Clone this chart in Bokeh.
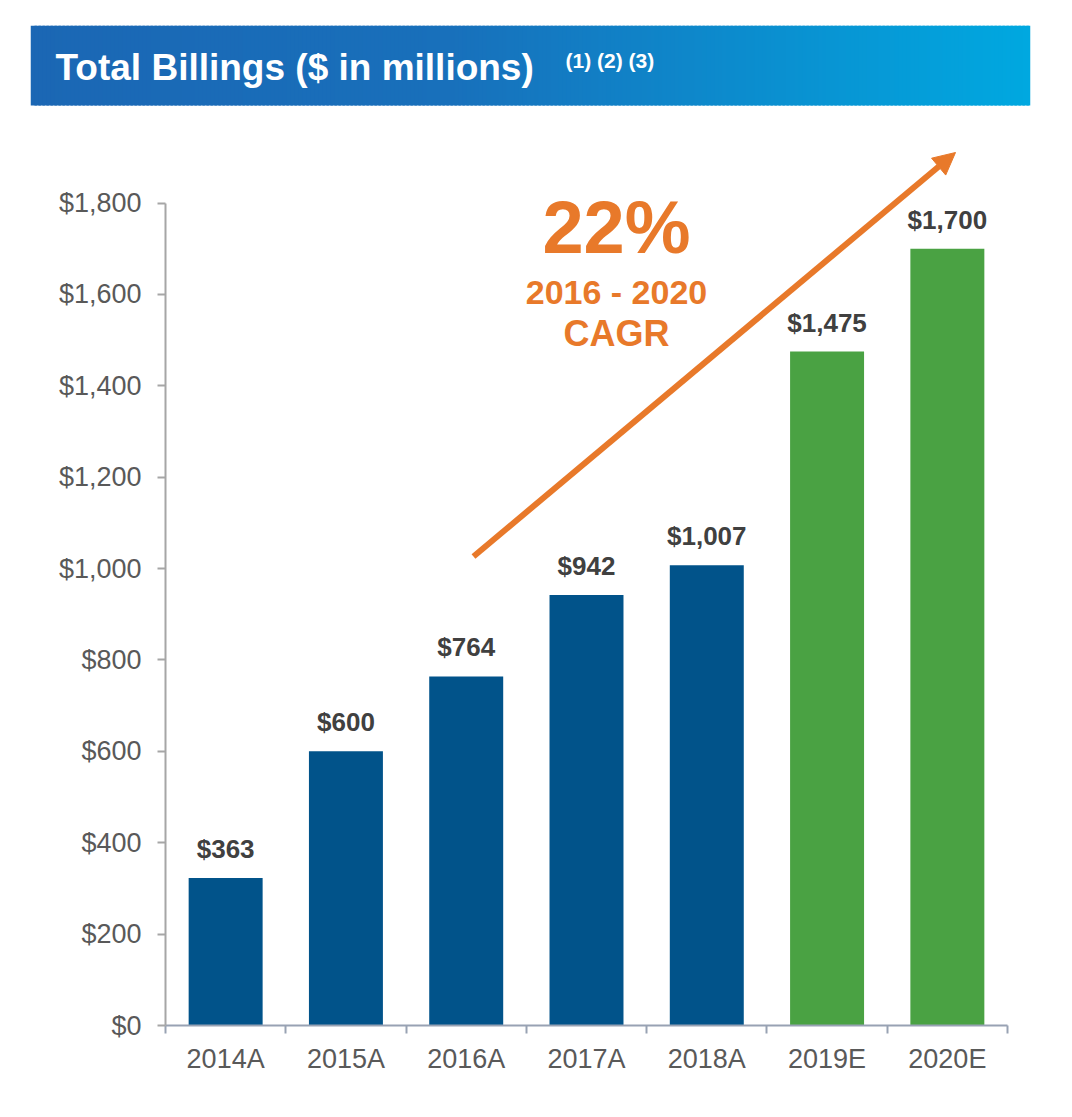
from bokeh.plotting import figure
from bokeh.models import (ColumnDataSource, Range1d, FixedTicker, NumeralTickFormatter,
                          LabelSet, Label, Arrow, NormalHead)
from bokeh.core.properties import value
from bokeh.embed import file_html
from bokeh.resources import INLINE

# ---------------- data ----------------
categories = ["2014A", "2015A", "2016A", "2017A", "2018A", "2019E", "2020E"]
bar_heights = [323, 600, 764, 942, 1007, 1475, 1700]   # bar heights as drawn
bar_labels = ["$363", "$600", "$764", "$942", "$1,007", "$1,475", "$1,700"]
kinds = ["Actual", "Actual", "Actual", "Actual", "Actual", "Estimate", "Estimate"]
y_ticks = [0, 200, 400, 600, 800, 1000, 1200, 1400, 1600, 1800]
title_text = "Total Billings ($ in millions)"
footnotes = "(1) (2) (3)"
cagr_value = "22%"
cagr_period = "2016 - 2020"
cagr_label = "CAGR"

FONT = "Liberation Sans"
BLUE = "#01538A"
GREEN = "#4AA243"
ORANGE = "#E8792A"
kind_colors = {"Actual": BLUE, "Estimate": GREEN}

ncat = len(categories)

# layout geometry (pixels)
W, H = 1064, 1100
FL, FR, FT, FB = 30, 1030, 25, 1095        # plot frame edges
AX_L, AX_R = 165, 1007                     # x extent of the category axis
Y0_PX, Y_TOP_PX = 1025, 202.5              # pixel rows of the $0 and top ticks
Y_MAX = y_ticks[-1]

sx = (AX_R - AX_L) / ncat
sy = (Y0_PX - Y_TOP_PX) / Y_MAX


def px2x(px):
    return (px - AX_L) / sx


def py2y(py):
    return (Y0_PX - py) / sy


p = figure(width=W, height=H,
           x_range=Range1d(px2x(FL), px2x(FR)), y_range=Range1d(py2y(FB), py2y(FT)),
           toolbar_location=None, output_backend="svg", title_location=None,
           min_border_left=FL, min_border_right=W - FR, min_border_top=FT,
           min_border_bottom=H - FB, outline_line_color=None)
p.xgrid.visible = False
p.ygrid.visible = False

# ---------------- header band (gradient) ----------------


def hex2rgb(h):
    h = h.lstrip("#")
    return tuple(int(h[i:i + 2], 16) for i in (0, 2, 4))


stops = [(0.0, "#1B67B4"), (0.42, "#1870BB"), (1.0, "#00A8E0")]
n = 250
lefts, rights, cols = [], [], []
hx0, hx1 = 30, 1030
for i in range(n):
    t = i / (n - 1)
    c = stops[-1][1]
    for j in range(len(stops) - 1):
        if stops[j][0] <= t <= stops[j + 1][0]:
            a, ca = stops[j]
            b, cb = stops[j + 1]
            f = (t - a) / (b - a)
            r0, g0, b0 = hex2rgb(ca)
            r1, g1, b1 = hex2rgb(cb)
            c = "#%02x%02x%02x" % (round(r0 + (r1 - r0) * f), round(g0 + (g1 - g0) * f),
                                   round(b0 + (b1 - b0) * f))
            break
    l_px = hx0 + i * (hx1 - hx0) / n
    r_px = min(hx1, hx0 + (i + 1.6) * (hx1 - hx0) / n)
    lefts.append(px2x(l_px))
    rights.append(px2x(r_px))
    cols.append(c)
p.quad(left=lefts, right=rights, bottom=py2y(105), top=py2y(25), fill_color=cols, line_color=None)
p.add_layout(Label(x=px2x(55), y=py2y(67), text=title_text, text_color="white", text_font=FONT,
                   text_font_size="37px", text_font_style="bold", text_baseline="middle"))
p.add_layout(Label(x=px2x(565), y=py2y(60), text=footnotes, text_color="white", text_font=FONT,
                   text_font_size="21px", text_font_style="bold", text_baseline="middle"))

# ---------------- bars ----------------
src = ColumnDataSource(dict(
    x=[i + 0.5 for i in range(ncat)],
    top=bar_heights,
    label=bar_labels,
    color=[kind_colors[k] for k in kinds],
))
p.vbar(x="x", top="top", width=0.615, bottom=0, fill_color="color", line_color=None, source=src)
p.add_layout(LabelSet(x="x", y="top", text="label", source=src, text_align="center",
                      text_baseline="middle", y_offset=29, text_font=value(FONT),
                      text_font_size=value("26px"), text_font_style=value("bold"),
                      text_color=value("#404040")))

# y axis (fixed at the first category edge)
yax = p.yaxis[0]
yax.fixed_location = 0
yax.ticker = FixedTicker(ticks=y_ticks)
yax.formatter = NumeralTickFormatter(format="$0,0")
yax.bounds = (0, Y_MAX)
yax.axis_line_color = "#A6A6A6"
yax.axis_line_width = 2
yax.major_tick_line_color = "#A6A6A6"
yax.major_tick_line_width = 2
yax.major_tick_out = 8
yax.major_tick_in = 0
yax.minor_tick_line_color = None
yax.major_label_standoff = 16
yax.major_label_text_font = FONT
yax.major_label_text_font_size = "27px"
yax.major_label_text_color = "#595959"

# x axis (fixed at y = 0)
xax = p.xaxis[0]
xax.fixed_location = 0
xax.ticker = FixedTicker(ticks=[i + 0.5 for i in range(ncat)], minor_ticks=list(range(ncat + 1)))
xax.major_label_overrides = {i + 0.5: c for i, c in enumerate(categories)}
xax.bounds = (0, ncat)
xax.axis_line_color = "#98A2B3"
xax.axis_line_width = 2
xax.major_tick_line_color = None
xax.minor_tick_line_color = "#98A2B3"
xax.minor_tick_line_width = 2
xax.minor_tick_out = 8
xax.minor_tick_in = 0
xax.major_label_standoff = 10
xax.major_label_text_font = FONT
xax.major_label_text_font_size = "27px"
xax.major_label_text_color = "#595959"

# ---------------- CAGR arrow and text ----------------
p.add_layout(Arrow(x_start=px2x(473), y_start=py2y(556), x_end=px2x(955), y_end=py2y(152),
                   line_color=ORANGE, line_width=6,
                   end=NormalHead(size=22, fill_color=ORANGE, line_color=ORANGE)))
p.add_layout(Label(x=px2x(616), y=py2y(227), text=cagr_value, text_align="center",
                   text_baseline="middle", text_font=FONT, text_font_size="74px",
                   text_font_style="bold", text_color=ORANGE))
p.add_layout(Label(x=px2x(616), y=py2y(291), text=cagr_period, text_align="center",
                   text_baseline="middle", text_font=FONT, text_font_size="34px",
                   text_font_style="bold", text_color=ORANGE))
p.add_layout(Label(x=px2x(616), y=py2y(333), text=cagr_label, text_align="center",
                   text_baseline="middle", text_font=FONT, text_font_size="36px",
                   text_font_style="bold", text_color=ORANGE))

open("out.html", "w").write(file_html(p, INLINE))
